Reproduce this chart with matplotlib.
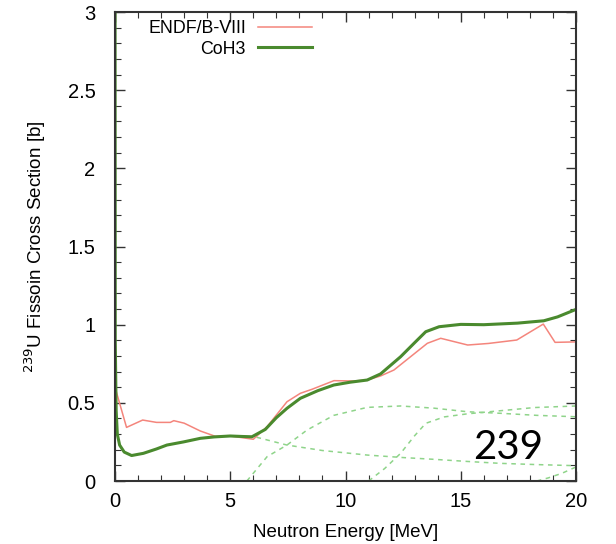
import matplotlib
matplotlib.use("Agg")
import matplotlib.pyplot as plt
from matplotlib.ticker import MultipleLocator

plt.rcParams['font.family'] = ['Liberation Sans', 'DejaVu Sans']

# ENDF/B-VIII evaluation
endf_e = [0.0, 0.5, 1.2, 1.8, 2.4, 2.55, 3.0, 3.7, 4.35, 5.0, 6.0, 6.6, 7.46, 8.04, 8.55,
          9.5, 10.36, 10.94, 11.52, 12.1, 13.55, 14.13, 15.3, 16.2, 17.43, 18.58, 19.09, 20.0]
endf_xs = [0.60, 0.343, 0.39, 0.375, 0.375, 0.386, 0.37, 0.32, 0.286, 0.288, 0.267, 0.348,
           0.507, 0.561, 0.587, 0.642, 0.64, 0.646, 0.672, 0.71, 0.881, 0.913, 0.87, 0.88,
           0.902, 1.004, 0.887, 0.89]

# CoH3 calculation (total)
coh_e = [0.001, 0.01, 0.05, 0.1, 0.2, 0.4, 0.72, 1.23, 1.8, 2.25, 2.97, 3.7, 4.3, 5.0, 5.5,
         5.94, 6.52, 7.0, 7.46, 8.04, 8.8, 9.49, 10.2, 10.94, 11.52, 12.39, 13.0, 13.48,
         14.06, 15.0, 16.0, 17.46, 18.6, 19.2, 20.0]
coh_xs = [3.5, 0.9, 0.45, 0.3, 0.23, 0.185, 0.163, 0.177, 0.205, 0.23, 0.25, 0.273, 0.282,
          0.288, 0.285, 0.283, 0.33, 0.405, 0.465, 0.529, 0.578, 0.614, 0.632, 0.646, 0.685,
          0.795, 0.885, 0.955, 0.987, 1.002, 1.0, 1.01, 1.025, 1.05, 1.098]

# CoH3 partial (multi-chance) fission components
first_e = [6.14, 7.46, 9.0, 10.94, 12.5, 13.8, 15.3, 16.7, 18.3, 20.0]
first_xs = [0.28, 0.23, 0.195, 0.166, 0.15, 0.139, 0.125, 0.113, 0.105, 0.098]

second_e = [5.72, 6.6, 7.46, 8.33, 9.49, 10.94, 12.39, 13.84, 15.3, 16.75, 18.3, 20.0]
second_xs = [0.0, 0.156, 0.23, 0.326, 0.42, 0.471, 0.48, 0.466, 0.443, 0.433, 0.42, 0.411]

third_e = [11.0, 11.7, 12.39, 13.0, 13.48, 14.28, 15.3, 16.75, 18.2, 20.0]
third_xs = [0.0, 0.08, 0.177, 0.29, 0.369, 0.41, 0.43, 0.45, 0.47, 0.48]

fourth_e = [18.3, 18.8, 19.4, 20.0]
fourth_xs = [0.0, 0.02, 0.05, 0.09]

fig = plt.figure(figsize=(6.16, 5.44), dpi=100)
ax = fig.add_axes([0.1867, 0.1158, 0.7484, 0.862])

dash_col = '#8fd48a'
for e, xs in [(first_e, first_xs), (second_e, second_xs), (third_e, third_xs), (fourth_e, fourth_xs)]:
    ax.plot(e, xs, color=dash_col, lw=1.1, ls=(0, (3, 3)))

ax.plot(endf_e, endf_xs, color='#f4857c', lw=1.1, label='ENDF/B-VIII')
ax.plot(coh_e, coh_xs, color='#4a8a2e', lw=2.2, label='CoH3')

ax.set_xlim(0, 20)
ax.set_ylim(0, 3)
ax.xaxis.set_minor_locator(MultipleLocator(1))
ax.yaxis.set_minor_locator(MultipleLocator(0.1))
ax.set_xticks([0, 5, 10, 15, 20])
ax.set_xticklabels(['0', '5', '10', '15', '20'])
ax.set_yticks([0, 0.5, 1, 1.5, 2, 2.5, 3])
ax.set_yticklabels(['0', '0.5', '1', '1.5', '2', '2.5', '3'])
ax.tick_params(which='both', direction='in', top=True, right=True, labelsize=14.5, color='#333333')
ax.tick_params(which='major', length=7, width=1)
ax.tick_params(which='minor', length=4, width=0.8)
ax.tick_params(axis='x', pad=8)
ax.tick_params(axis='y', pad=14)
for s in ax.spines.values():
    s.set_linewidth(1.5)
    s.set_color('#333333')

ax.set_xlabel('Neutron Energy [MeV]', fontsize=13.5, labelpad=9)
ax.set_ylabel('$^{239}$U Fissoin Cross Section [b]', fontsize=13.5, labelpad=14)

leg = ax.legend(loc='upper left', bbox_to_anchor=(0.0716, 0.983), frameon=False,
                markerfirst=False, fontsize=12.8, handlelength=3.0, handletextpad=0.7,
                borderpad=0, borderaxespad=0, labelspacing=0.2)

ax.text(0.853, 0.072, '239', transform=ax.transAxes, ha='center', va='center',
        fontsize=29, family=['Lato', 'DejaVu Sans'], color='black')

fig.savefig('out.png', dpi=100)
